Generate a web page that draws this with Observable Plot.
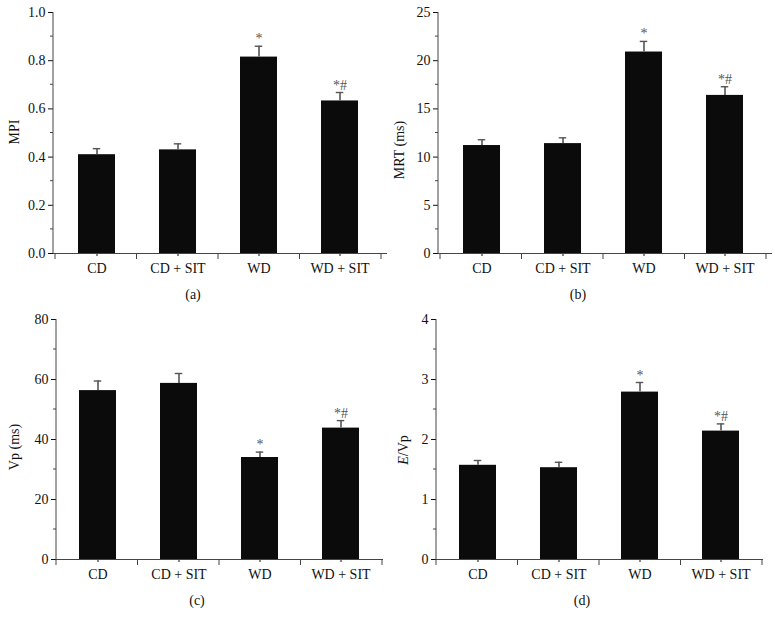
<!DOCTYPE html>
<html>
<head>
<meta charset="utf-8">
<script src="https://cdn.jsdelivr.net/npm/d3@7"></script>
<script src="https://cdn.jsdelivr.net/npm/@observablehq/plot@0.6"></script>
<style>
  body { margin: 0; background: #fff; }
  #root { position: relative; width: 775px; height: 628px; overflow: hidden; background: #fff;
          font-family: "Liberation Serif", "DejaVu Serif", serif; color: #111; }
  .panel { position: absolute; }
  .ylab { position: absolute; font-size: 14px; white-space: nowrap; transform: translate(-50%, -50%) rotate(-90deg); }
  .cap { position: absolute; font-size: 14px; transform: translate(-50%, -50%); }
</style>
</head>
<body>
<div id="root"></div>
<script>
// ---- data ----
const groups = ["CD", "CD + SIT", "WD", "WD + SIT"];
const signif = ["", "", "*", "*#"];

const mpiMean  = [0.41, 0.43, 0.815, 0.633];
const mpiUpper = [0.435, 0.455, 0.86, 0.668];

const mrtMean  = [11.2, 11.4, 20.9, 16.4];
const mrtUpper = [11.8, 12.0, 22.0, 17.3];

const vpMean   = [56.3, 58.7, 34.0, 43.8];
const vpUpper  = [59.5, 62.0, 35.8, 46.3];

const evpMean  = [1.57, 1.53, 2.79, 2.14];
const evpUpper = [1.65, 1.62, 2.95, 2.26];

// tick lists
const mpiTicks = [0, 0.2, 0.4, 0.6, 0.8, 1.0];
const mpiMinor = [0.1, 0.3, 0.5, 0.7, 0.9];
const mrtTicks = [0, 5, 10, 15, 20, 25];
const mrtMinor = [2.5, 7.5, 12.5, 17.5, 22.5];
const vpTicks  = [0, 20, 40, 60, 80];
const vpMinor  = [10, 30, 50, 70];
const evpTicks = [0, 1, 2, 3, 4];
const evpMinor = [0.5, 1.5, 2.5, 3.5];

// ---- drawing ----
const axisColor = "#444";
const barColor = "#0b0b0b";
const errColor = "#555";
const font = '"Liberation Serif", "DejaVu Serif", serif';

function panel(cfg) {
  const data = groups.map((g, i) => ({ g, mean: cfg.mean[i], upper: cfg.upper[i], sig: signif[i] }));
  const { width, height, mt, mb, ml, mr, xr, domain } = cfg;
  const n = groups.length;
  const bw = (xr[1] - xr[0]) / n;
  const yPix = v => height - mb - (v - domain[0]) / (domain[1] - domain[0]) * (height - mt - mb);

  const extraTicks = (index, scales, values, dims) => {
    const y0 = dims.height - dims.marginBottom;
    const x0 = dims.marginLeft;
    const g = d3.create("svg:g").attr("stroke", axisColor).attr("stroke-width", 1);
    // boundary ticks on x axis
    for (let i = 0; i <= n; i++) {
      const x = xr[0] + i * bw;
      g.append("line").attr("x1", x).attr("x2", x).attr("y1", y0).attr("y2", y0 + 6);
    }
    // minor y ticks
    for (const v of cfg.minor) {
      const y = (scales && typeof scales.y === "function") ? scales.y(v) : yPix(v);
      g.append("line").attr("x1", x0 - 3).attr("x2", x0).attr("y1", y).attr("y2", y);
    }
    // y axis line
    g.append("line").attr("x1", x0).attr("x2", x0).attr("y1", mt).attr("y2", y0);
    return g.node();
  };

  const chart = Plot.plot({
    width, height,
    marginTop: mt, marginBottom: mb, marginLeft: ml, marginRight: mr,
    style: { fontFamily: font, fontSize: "14px", color: "#111", background: "transparent", overflow: "visible" },
    x: { domain: groups, range: xr, padding: 0, label: null, tickSize: 3, tickPadding: 7 },
    y: { domain, ticks: cfg.ticks, tickFormat: cfg.format, tickSize: 5, tickPadding: 3, label: null },
    marks: [
      Plot.barY(data, { x: "g", y: "mean", fill: barColor, insetLeft: 22, insetRight: 22 }),
      Plot.ruleX(data, { x: "g", y1: "mean", y2: "upper", stroke: errColor, strokeWidth: 1.6 }),
      Plot.tickY(data, { x: "g", y: "upper", stroke: errColor, strokeWidth: 1.4, insetLeft: (bw - 8) / 2, insetRight: (bw - 8) / 2 }),
      Plot.text(data, { x: "g", y: "upper", text: "sig", lineAnchor: "bottom", dy: -3, fontSize: 14, fill: "#555" }),
      Plot.ruleY([domain[0]], { stroke: axisColor, strokeWidth: 1 }),
      extraTicks
    ]
  });
  d3.select(chart).selectAll("g[aria-label$='axis'] path").attr("stroke", axisColor);

  const div = document.createElement("div");
  div.className = "panel";
  div.style.left = cfg.left + "px";
  div.style.top = cfg.top + "px";
  div.appendChild(chart);
  root.appendChild(div);

  const yl = document.createElement("div");
  yl.className = "ylab";
  yl.innerHTML = cfg.ylabel;
  yl.style.left = (cfg.left + cfg.ylx) + "px";
  yl.style.top = (cfg.top + cfg.yly) + "px";
  root.appendChild(yl);

  const cap = document.createElement("div");
  cap.className = "cap";
  cap.textContent = cfg.caption;
  cap.style.left = (cfg.left + cfg.capx) + "px";
  cap.style.top = (cfg.top + cfg.capy) + "px";
  root.appendChild(cap);
}

const root = document.getElementById("root");

panel({ left: 0, top: 0, width: 390, height: 300, mt: 12, mb: 47, ml: 53, mr: 3, xr: [55, 381],
  domain: [0, 1], ticks: mpiTicks, minor: mpiMinor, format: d3.format(".1f"),
  mean: mpiMean, upper: mpiUpper, ylabel: "MPI", ylx: 15, yly: 132, caption: "(a)", capx: 193, capy: 295 });

panel({ left: 385, top: 0, width: 390, height: 300, mt: 12, mb: 47, ml: 53, mr: 3, xr: [55, 381],
  domain: [0, 25], ticks: mrtTicks, minor: mrtMinor, format: d3.format("d"),
  mean: mrtMean, upper: mrtUpper, ylabel: "MRT (ms)", ylx: 15, yly: 150, caption: "(b)", capx: 193, capy: 295 });

panel({ left: 0, top: 300, width: 390, height: 300, mt: 19, mb: 41, ml: 56, mr: 7, xr: [56, 382],
  domain: [0, 80], ticks: vpTicks, minor: vpMinor, format: d3.format("d"),
  mean: vpMean, upper: vpUpper, ylabel: "Vp (ms)", ylx: 15, yly: 147, caption: "(c)", capx: 197, capy: 301 });

panel({ left: 385, top: 300, width: 390, height: 300, mt: 19, mb: 41, ml: 51, mr: 12, xr: [51, 377],
  domain: [0, 4], ticks: evpTicks, minor: evpMinor, format: d3.format("d"),
  mean: evpMean, upper: evpUpper, ylabel: "<i>E</i>/Vp", ylx: 19, yly: 150, caption: "(d)", capx: 197, capy: 301 });
</script>
</body>
</html>
